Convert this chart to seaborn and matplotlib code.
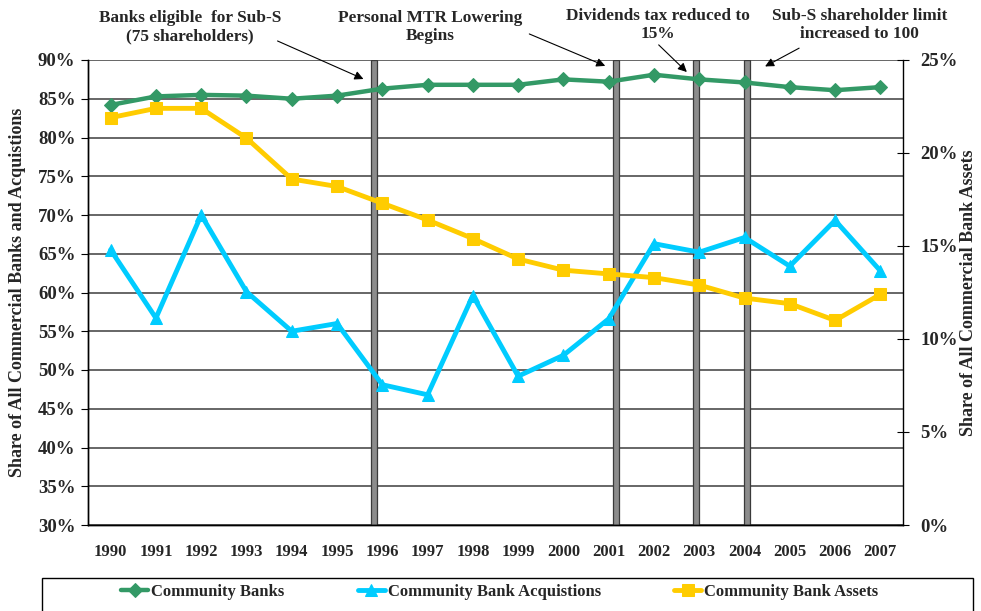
import numpy as np
import pandas as pd
import seaborn as sns
import matplotlib.pyplot as plt
from matplotlib.patches import Rectangle
from matplotlib.ticker import FixedLocator, FuncFormatter

years = list(range(1990, 2008))
community_banks = [84.2, 85.3, 85.5, 85.4, 85.0, 85.4, 86.3, 86.8, 86.8, 86.8,
                   87.5, 87.2, 88.1, 87.5, 87.1, 86.5, 86.1, 86.5]
acquisitions = [65.5, 56.7, 70.0, 60.1, 55.0, 56.0, 48.1, 46.8, 59.6, 49.2,
                51.9, 56.6, 66.3, 65.2, 67.1, 63.4, 69.3, 62.8]
assets = [21.9, 22.4, 22.4, 20.8, 18.6, 18.2, 17.3, 16.4, 15.4, 14.3,
          13.7, 13.5, 13.3, 12.9, 12.2, 11.9, 11.0, 12.4]

# policy events (position on the year axis)
event_x = [1995.81, 2001.16, 2002.92, 2004.05]
event_labels = ["Banks eligible  for Sub-S\n(75 shareholders)",
                "Personal MTR Lowering\nBegins",
                "Dividends tax reduced to\n15%",
                "Sub-S shareholder limit\nincreased to 100"]
label_pos = [(1991.75, 94.25), (1997.05, 94.25), (2002.08, 94.55), (2006.54, 94.55)]
arrow_from = [(1993.63, 92.6), (1999.19, 93.5), (2002.06, 92.2), (2005.26, 91.7)]
arrow_to = [(1995.64, 87.4), (2000.98, 89.1), (2002.77, 88.2), (2004.4, 89.0)]

left_ticks = list(range(30, 91, 5))
right_ticks = list(range(0, 26, 5))

df = pd.DataFrame({'Year': years, 'Community Banks': community_banks,
                   'Community Bank Acquistions': acquisitions,
                   'Community Bank Assets': assets})

sns.set_style("white")
plt.rcParams['font.family'] = ['Liberation Serif', 'DejaVu Serif']
plt.rcParams['font.weight'] = 'bold'
plt.rcParams['axes.labelweight'] = 'bold'

fig = plt.figure(figsize=(9.81, 6.11), dpi=100)
ax = fig.add_axes([88 / 981, 86 / 611, 815 / 981, 465 / 611])
ax2 = ax.twinx()

green = '#339966'
cyan = '#00CCFF'
yellow = '#FFCC00'

# gridlines
for t in left_ticks:
    ax.axhline(t, color='#4d4d4d', lw=1.2, zorder=1)

# event bars
for x in event_x:
    ax.axvspan(x - 0.065, x + 0.065, facecolor='#8c8c8c', edgecolor='#3a3a3a', lw=0.9, zorder=2)

sns.lineplot(data=df, x='Year', y='Community Banks', ax=ax, color=green, lw=3.2,
             marker='D', markersize=7, markeredgecolor=green, label='Community Banks', zorder=5)
sns.lineplot(data=df, x='Year', y='Community Bank Acquistions', ax=ax, color=cyan, lw=3.5,
             marker='^', markersize=9, markeredgecolor=cyan, label='Community Bank Acquistions', zorder=4)
sns.lineplot(data=df, x='Year', y='Community Bank Assets', ax=ax2, color=yellow, lw=3.5,
             marker='s', markersize=9, markeredgecolor=yellow, label='Community Bank Assets', zorder=4)

ax.set_xlim(1989.5, 2007.5)
ax.set_ylim(30, 90)
ax2.set_ylim(0, 25)

ax.set_xticks(years)
ax.set_xticklabels([str(y) for y in years], fontsize=12, fontweight='bold')
ax.xaxis.set_minor_locator(FixedLocator(np.arange(1989.5, 2008, 1)))
ax.tick_params(axis='x', which='major', length=0, pad=14)
ax.tick_params(axis='x', which='minor', length=5, width=0.8, direction='out', color='black')

ax.set_yticks(left_ticks)
ax.yaxis.set_major_formatter(FuncFormatter(lambda v, p: f'{v:.0f}%'))
ax.tick_params(axis='y', length=5, width=0.8, direction='out', color='black', labelsize=13.5, pad=4)
ax2.set_yticks(right_ticks)
ax2.yaxis.set_major_formatter(FuncFormatter(lambda v, p: f'{v:.0f}%'))
ax2.tick_params(axis='y', length=9, width=0.8, direction='inout', color='black', labelsize=13.5, pad=8)
for lab in ax.get_yticklabels() + ax2.get_yticklabels():
    lab.set_fontweight('bold')

ax.set_xlabel('')
ax.set_ylabel('Share of All Commercial Banks and Acquistions', fontsize=13, fontweight='bold')
ax2.set_ylabel('Share of All Commercial Bank Assets', fontsize=13, fontweight='bold')
ax.yaxis.set_label_coords(-0.0859, 0.5)
ax2.yaxis.set_label_coords(1.0798, 0.5)
ax.yaxis.label.set_va('center')
ax2.yaxis.label.set_va('center')

for a in (ax, ax2):
    a.spines['top'].set_visible(False)
    for s in ('left', 'right', 'bottom'):
        a.spines[s].set_color('black')
        a.spines[s].set_linewidth(1.0)
ax.spines['right'].set_visible(False)

# annotations
for lab, (tx, ty), (fx, fy), (hx, hy) in zip(event_labels, label_pos, arrow_from, arrow_to):
    ax.text(tx, ty, lab, ha='center', va='center', fontsize=12.4, fontweight='bold',
            linespacing=1.2, clip_on=False)
    ax.annotate('', xy=(hx, hy), xytext=(fx, fy), annotation_clip=False,
                arrowprops=dict(arrowstyle='-|>', color='black', lw=0.8, mutation_scale=13))

# legend
h1, l1 = ax.get_legend_handles_labels()
h2, l2 = ax2.get_legend_handles_labels()
ax.get_legend().remove()
ax2.get_legend().remove()
fig.patches.append(Rectangle((42 / 981, -0.02), 931 / 981, 45 / 611, transform=fig.transFigure,
                             facecolor='white', edgecolor='black', lw=1.0))
fig.legend(h1 + h2, l1 + l2, loc='center', bbox_to_anchor=(500 / 981, 19 / 611), ncol=3,
           frameon=False, handlelength=1.6, handletextpad=0.2, columnspacing=4.4,
           prop={'weight': 'bold', 'size': 12})

fig.savefig('out.png', dpi=100)
